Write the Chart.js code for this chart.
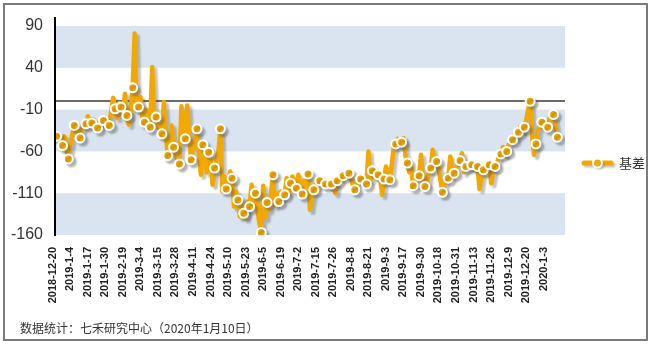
<!DOCTYPE html>
<html lang="zh">

<head>
    <meta charset="UTF-8">
    <script src="https://cdn.jsdelivr.net/npm/chart.js"></script>
    <title>基差</title>
    <style>
        body {
            margin: 0;
            background: #fff;
        }
    </style>
</head>

<body>

    <canvas id="grafico_basis" width="652" height="346"></canvas>

    <script>

        // datas mostradas no eixo x (uma a cada 9 pregões)
        const tickLabels = ['2018-12-20', '2019-1-4', '2019-1-17', '2019-1-30', '2019-2-19', '2019-3-4', '2019-3-15',
            '2019-3-28', '2019-4-11', '2019-4-24', '2019-5-10', '2019-5-23', '2019-6-5', '2019-6-19', '2019-7-2',
            '2019-7-15', '2019-7-26', '2019-8-8', '2019-8-21', '2019-9-3', '2019-9-17', '2019-9-30', '2019-10-18',
            '2019-10-31', '2019-11-13', '2019-11-26', '2019-12-9', '2019-12-20', '2020-1-3'];

        const yTicks = [90, 40, -10, -60, -110, -160];

        const seriesName = '基差';

        // 基差 diário
        const basis = [
            -42, -40, -44, -53, -42, -58, -69, -52, -40, -29,
            -34, -38, -44, -33, -30, -27, -18, -24, -26, -22,
            -29, -32, -27, -25, -23, -20, -26, -29, -10, 4,
            -9, -20, -2, -7, -18, 9, -17, -28, -10, 16,
            81, -10, -7, 5, -20, -25, -10, -22, -31, 41,
            -15, -19, -30, -36, -39, -1, -40, -65, -50, -29,
            -55, -62, -70, -75, -6, -30, -45, -5, -40, -70,
            -55, -45, -33, -60, -88, -52, -60, -85, -61, -70,
            -100, -80, -70, -60, -33, -108, -90, -105, -95, -84,
            -92, -126, -108, -118, -138, -120, -134, -140, -120, -126,
            -100, -120, -110, -130, -145, -157, -101, -140, -121, -130,
            -110, -88, -125, -110, -120, -108, -115, -112, -92, -110,
            -98, -90, -100, -104, -88, -100, -111, -95, -100, -87,
            -130, -115, -106, -98, -102, -95, -92, -100, -99, -96,
            -102, -99, -94, -110, -95, -92, -86, -89, -88, -84,
            -86, -92, -100, -106, -98, -94, -93, -90, -95, -99,
            -60, -95, -83, -90, -85, -88, -90, -112, -93, -78,
            -85, -94, -75, -55, -51, -45, -50, -49, -44, -65,
            -74, -85, -80, -101, -100, -95, -89, -64, -95, -102,
            -100, -85, -80, -58, -75, -72, -80, -95, -109, -100,
            -88, -92, -66, -80, -86, -80, -75, -71, -62, -85,
            -78, -80, -74, -76, -80, -77, -78, -105, -90, -82,
            -78, -76, -76, -98, -85, -78, -74, -66, -63, -55,
            -64, -60, -52, -48, -46, -40, -44, -37, -30, -36,
            -31, -22, -10, 0, -40, -64, -51, -35, -28, -25,
            -30, -27, -31, -20, -18, -16, -30, -43
        ];

        const cor = '#f3a800';

        // faixas azuis, linha do zero, eixo y e moldura
        const fundo = {
            id: 'fundo',
            beforeDraw(chart) {
                const { ctx, chartArea: a, scales: { y } } = chart;
                ctx.save();
                ctx.fillStyle = '#fff';
                ctx.fillRect(0, 0, chart.width, chart.height);

                ctx.fillStyle = '#d9e4f0';
                for (let k = 0; k < yTicks.length - 1; k += 2) {
                    const top = y.getPixelForValue(yTicks[k]);
                    const bot = y.getPixelForValue(yTicks[k + 1]);
                    ctx.fillRect(a.left, top, a.right - a.left, bot - top);
                }

                ctx.lineWidth = 2;
                ctx.strokeStyle = '#6b6b6b';
                const y0 = Math.round(y.getPixelForValue(0));
                ctx.beginPath();
                ctx.moveTo(a.left, y0);
                ctx.lineTo(a.right, y0);
                ctx.stroke();

                ctx.strokeStyle = '#000';
                ctx.beginPath();
                ctx.moveTo(a.left - 1, a.top - 9);
                ctx.lineTo(a.left - 1, a.bottom + 1);
                ctx.stroke();

                ctx.strokeStyle = '#7b7b7b';
                ctx.strokeRect(4, 4, 643, 336);
                ctx.restore();
            }
        };

        // sombra cinza da linha
        const sombra = {
            id: 'sombra',
            beforeDatasetDraw(chart) {
                const ctx = chart.ctx;
                ctx.save();
                ctx.shadowColor = 'rgba(80,80,80,0.35)';
                ctx.shadowOffsetX = 3;
                ctx.shadowOffsetY = 3;
                ctx.shadowBlur = 2;
            },
            afterDatasetDraw(chart) {
                chart.ctx.restore();
            }
        };

        // legenda à direita e nota de rodapé
        const legendaRodape = {
            id: 'legendaRodape',
            afterDraw(chart) {
                const ctx = chart.ctx;
                const ly = 163;
                ctx.save();
                ctx.shadowColor = 'rgba(80,80,80,0.35)';
                ctx.shadowOffsetX = 2;
                ctx.shadowOffsetY = 2;
                ctx.shadowBlur = 2;
                ctx.strokeStyle = cor;
                ctx.lineWidth = 5;
                ctx.lineCap = 'round';
                ctx.beginPath();
                ctx.moveTo(584, ly);
                ctx.lineTo(611, ly);
                ctx.stroke();
                ctx.beginPath();
                ctx.arc(597.5, ly, 4.5, 0, Math.PI * 2);
                ctx.fillStyle = cor;
                ctx.fill();
                ctx.shadowColor = 'transparent';
                ctx.lineWidth = 2;
                ctx.strokeStyle = '#fff';
                ctx.stroke();

                ctx.fillStyle = '#333';
                ctx.textBaseline = 'middle';
                ctx.font = '13px "Noto Sans CJK SC"';
                ctx.fillText(chart.data.datasets[0].label, 619, ly);

                ctx.font = '12px "Noto Sans CJK SC"';
                ctx.fillText('数据统计：七禾研究中心（2020年1月10日）', 20, 328);
                ctx.restore();
            }
        };

        Chart.defaults.font.family = '"Liberation Sans", Arial, sans-serif';

        const ctx = document.getElementById('grafico_basis');

        const grafico_basis = new Chart(ctx, {
            type: 'line',
            data: {
                datasets: [{
                    label: seriesName,
                    data: basis.map((v, i) => ({ x: i, y: v })),
                    borderColor: cor,
                    borderWidth: 4.5,
                    borderJoinStyle: 'round',
                    tension: 0,
                    pointBackgroundColor: cor,
                    pointBorderColor: '#fff',
                    pointBorderWidth: 2,
                    pointRadius: c => (c.dataIndex % 3 === 0 || c.dataIndex === basis.length - 1) ? 4.5 : 0,
                    pointHoverRadius: 4.5
                }]
            },
            options: {
                responsive: false,
                animation: false,
                layout: {
                    padding: { top: 26, right: 87, left: 0, bottom: 0 }
                },
                plugins: {
                    legend: { display: false },
                    tooltip: { enabled: false }
                },
                scales: {
                    x: {
                        type: 'linear',
                        min: -0.36,
                        max: 260.9,
                        grid: { display: false },
                        border: { display: false },
                        afterFit: axis => { axis.height = 111; },
                        afterBuildTicks: axis => {
                            axis.ticks = tickLabels.map((t, k) => ({ value: k * 9 }));
                        },
                        ticks: {
                            autoSkip: false,
                            minRotation: 90,
                            maxRotation: 90,
                            padding: 4,
                            labelOffset: -4,
                            color: '#222',
                            font: { size: 11, weight: 'bold' },
                            callback: (v, i) => tickLabels[i]
                        }
                    },
                    y: {
                        min: -160,
                        max: 90,
                        grid: { display: false },
                        border: { display: false },
                        afterFit: axis => { axis.width = 56; },
                        ticks: {
                            stepSize: 50,
                            padding: 5,
                            color: '#333',
                            font: { size: 16 }
                        }
                    }
                }
            },
            plugins: [fundo, sombra, legendaRodape]
        });

    </script>

</body>

</html>
